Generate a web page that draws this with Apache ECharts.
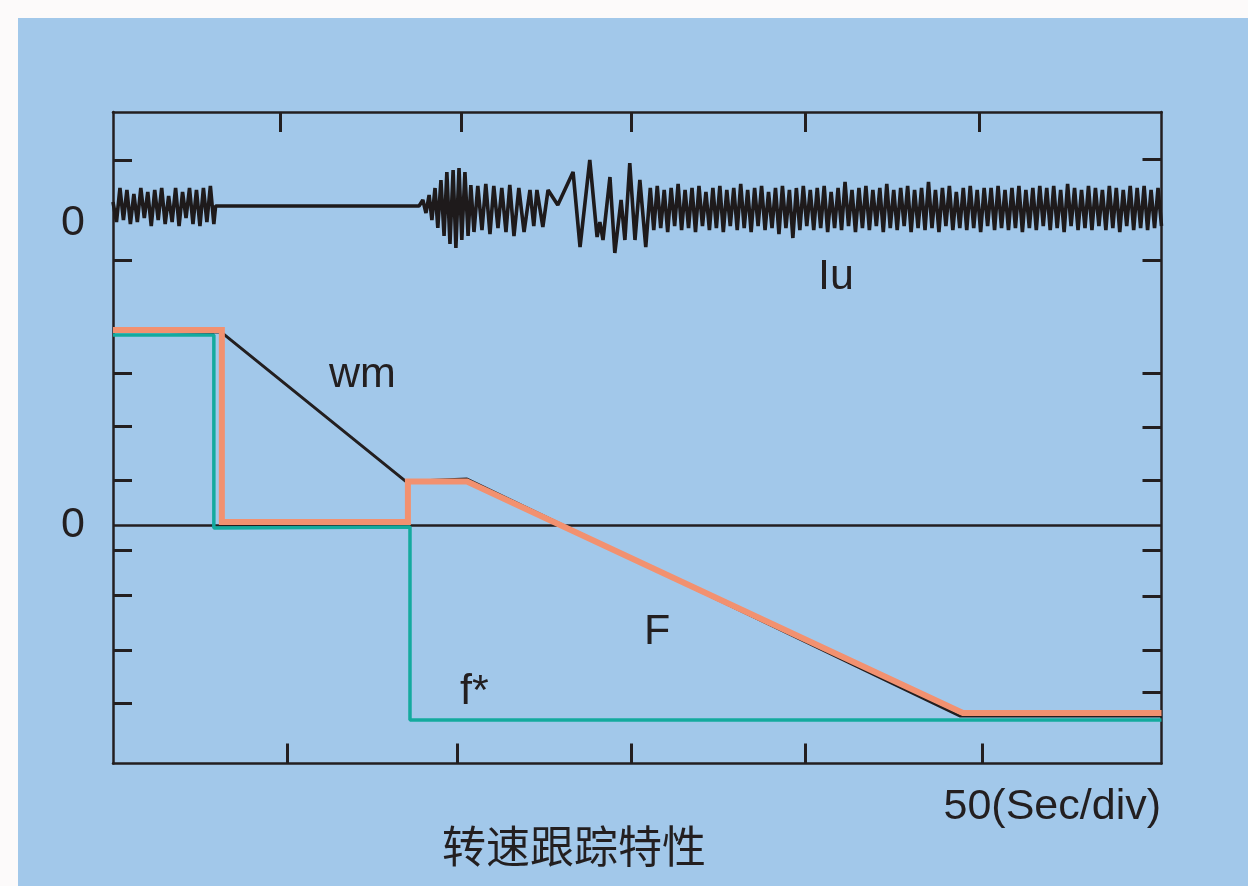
<!DOCTYPE html>
<html>
<head>
<meta charset="utf-8">
<script src="https://cdn.jsdelivr.net/npm/echarts@6/dist/echarts.min.js"></script>
<style>
html,body{margin:0;padding:0;background:#fcfafa;}
#chart{width:1248px;height:886px;}
</style>
</head>
<body>
<div id="chart"></div>
<script>
// ---- data (time in seconds, 50 s per division) ----
const tMax = 301.5;
// speed / frequency traces (percent of start speed)
const F_curve  = [[0,100.3],[31.3,100.3],[31.3,1.8],[84.8,1.8],[84.8,22.6],[101.8,22.6],[244.4,-96.2],[301.5,-96.2]];
const wm_curve = [[0,99.7],[31.1,99.2],[84.2,22.6],[101.8,23.8],[243.5,-97.7],[301.5,-97.7]];
const fStar    = [[0,97.7],[29.0,97.7],[29.0,-1.3],[85.4,-0.8],[85.4,-99.7],[301.5,-99.7]];
const zeroLine = [[0,0],[301.5,0]];
// Iu current: segment A sampled every 1 s from 0 s
const iuA_start = 0, iuA_step = 1.0;
const iuA = [0.2,-0.8,0.9,-0.7,0.8,-0.9,0.6,-0.8,0.9,-0.6,0.7,-1.0,0.8,-0.7,0.9,-0.9,0.5,-0.8,0.9,-1.0,0.7,-0.6,0.9,-0.9,0.8,-1.0,0.9,-0.8,1.0,-0.9];
const iuFlat = [[29.5,0],[88.0,0]];
// burst after restart
const iuBurst = [[89.1,0.3],[90.0,-0.35],[90.9,0.55],[91.7,-0.7],[92.6,0.9],[93.4,-1.1],[94.3,1.3],[95.2,-1.5],[96.0,1.7],[96.9,-1.9],[97.8,1.8],[98.6,-2.1],[99.5,1.9],[100.3,-1.7],[101.2,1.7],[102.1,-1.5],[102.9,1.05],[103.8,-1.3],[104.9,1.0],[106.1,-1.2],[107.2,1.1],[108.4,-1.4],[109.5,1.0],[110.7,-1.1],[111.8,0.9],[113.0,-1.3],[114.1,1.05],[115.3,-1.5],[116.7,0.9],[118.2,-1.3],[119.9,0.8],[121.0,-1.0],[121.9,0.8],[123.6,-1.05],[125.1,0.8],[127.9,0.05],[132.3,1.7],[134.3,-2.05],[137.1,2.3],[139.2,-1.55],[140.0,-0.8],[140.9,-1.7],[142.9,1.45],[144.3,-2.35],[146.1,0.3],[147.2,-1.7],[148.6,2.15],[150.1,-1.7],[151.5,1.3],[153.2,-2.05]];
// segment B sampled every 1 s from 154.5 s
const iuB_start = 154.5, iuB_step = 1.0;
const iuB = [0.9,-1.2,1.0,-1.1,0.8,-1.3,0.9,-1.0,1.1,-1.2,
0.8,-1.1,0.9,-1.3,1.0,-1.0,0.7,-1.2,0.9,-1.1,
1.0,-1.3,0.8,-1.0,0.9,-1.2,1.1,-1.1,0.8,-1.3,
0.9,-1.0,1.0,-1.2,0.7,-1.1,0.9,-1.4,1.0,-1.1,
0.8,-1.6,0.9,-1.2,1.0,-1.0,0.8,-1.2,0.9,-1.1,
1.0,-1.3,0.7,-1.1,0.9,-1.2,1.2,-1.0,0.8,-1.3,
0.9,-1.1,1.0,-1.2,0.8,-1.0,0.9,-1.3,1.1,-1.1,
0.8,-1.2,0.9,-1.0,1.0,-1.3,0.8,-1.1,0.9,-1.2,
1.2,-1.1,0.8,-1.3,0.9,-1.0,1.0,-1.2,0.7,-1.1,
0.9,-1.2,1.0,-1.1,0.8,-1.3,0.9,-1.0,0.9,-1.2,
1.0,-1.1,0.8,-1.2,0.9,-1.1,1.0,-1.3,0.8,-1.1,
0.9,-1.2,1.0,-1.0,0.9,-1.2,1.0,-1.1,0.8,-1.3,
1.1,-1.0,0.9,-1.2,0.8,-1.1,1.0,-1.2,0.9,-1.0,
0.8,-1.2,1.0,-1.1,0.9,-1.3,0.8,-1.0,1.0,-1.2,
0.9,-1.1,1.0,-1.2,0.8,-1.1,0.9,-1.0];
// tick positions
const xTicksTop = [48,100,149,199,249];
const xTicksBottom = [50,99,149,199,250];
const yTicksLeft = [187.4,136.2,78.2,51.0,23.0,-12.6,-36.0,-63.8,-91.2];
const yTicksRight = [187.9,136.2,78.2,50.5,23.3,-12.6,-36.2,-63.8,-85.4];
const mainRange = [-122.05, 212.05];
const iuRange = [-27.875, 4.7];
// texts
const title = '转速跟踪特性';
const unitLabel = '50(Sec/div)';
const traceNames = {iu:'Iu', wm:'wm', F:'F', f:'f*'};

// ---- build ----
const iuData = [];
iuA.forEach((v,i)=>iuData.push([iuA_start + i*iuA_step, v]));
iuFlat.forEach(p=>iuData.push(p));
iuBurst.forEach(p=>iuData.push(p));
iuB.forEach((v,i)=>iuData.push([iuB_start + i*iuB_step, v]));

const INK = '#231f20';
const FONT = '"Liberation Sans", Arial, sans-serif';
const lineCommon = {type:'line', showSymbol:false, symbol:'none', animation:false, silent:true};

function xAx(pos, ticks){
  return {type:'value', position:pos, min:0, max:tMax,
    axisLine:{show:true, onZero:false, lineStyle:{color:INK, width:2.5}},
    axisTick:{show:true, inside:true, length:20, customValues:ticks, lineStyle:{color:INK, width:3}},
    axisLabel:{show:false}, splitLine:{show:false}};
}
function yAx(pos, ticks, labelVals){
  return {type:'value', position:pos, min:mainRange[0], max:mainRange[1],
    axisLine:{show:true, onZero:false, lineStyle:{color:INK, width:2.5}},
    axisTick:{show:true, inside:true, length:19, customValues:ticks, lineStyle:{color:INK, width:3}},
    axisLabel:{show: labelVals.length>0, customValues:labelVals, formatter:()=> '0', margin:28,
      color:INK, fontSize:43, fontFamily:FONT},
    splitLine:{show:false}};
}

const chart = echarts.init(document.getElementById('chart'), null, {renderer:'canvas'});
chart.setOption({
  backgroundColor:'#fcfafa',
  animation:false,
  grid:{left:113, top:112, right:86.5, bottom:122.5, containLabel:false},
  xAxis:[xAx('bottom', xTicksBottom), xAx('top', xTicksTop)],
  yAxis:[
    yAx('left', yTicksLeft, [0]),
    yAx('right', yTicksRight, []),
    {type:'value', position:'left', min:iuRange[0], max:iuRange[1],
      axisLine:{show:false}, axisTick:{show:false}, splitLine:{show:false},
      axisLabel:{show:true, customValues:[0], formatter:()=> '\n0', margin:28, lineHeight:34,
        color:INK, fontSize:43, fontFamily:FONT}}
  ],
  graphic:[
    {type:'rect', z:-100, shape:{x:18,y:18,width:1230,height:868}, style:{fill:'#a2c8ea'}, silent:true},
    {type:'text', x:818, y:277, style:{text:traceNames.iu, font:'43px '+FONT, fill:INK, align:'left', verticalAlign:'middle'}},
    {type:'text', x:329, y:375, style:{text:traceNames.wm, font:'43px '+FONT, fill:INK, align:'left', verticalAlign:'middle'}},
    {type:'text', x:644, y:632, style:{text:traceNames.F, font:'43px '+FONT, fill:INK, align:'left', verticalAlign:'middle'}},
    {type:'text', x:460, y:692, style:{text:traceNames.f, font:'43px '+FONT, fill:INK, align:'left', verticalAlign:'middle'}},
    {type:'text', x:1161, y:807, style:{text:unitLabel, font:'43px '+FONT, fill:INK, align:'right', verticalAlign:'middle'}},
    {type:'text', x:574, y:846, style:{text:title, font:'44px "Noto Sans CJK SC", sans-serif', fill:INK, align:'center', verticalAlign:'middle'}}
  ],
  series:[
    Object.assign({}, lineCommon, {name:'zero', data:zeroLine, xAxisIndex:0, yAxisIndex:0, lineStyle:{color:INK, width:2.5}, z:2}),
    Object.assign({}, lineCommon, {name:'f*', data:fStar, xAxisIndex:0, yAxisIndex:0, lineStyle:{color:'#14aa9e', width:3.5}, z:3}),
    Object.assign({}, lineCommon, {name:'wm', data:wm_curve, xAxisIndex:0, yAxisIndex:0, lineStyle:{color:INK, width:3}, z:4}),
    Object.assign({}, lineCommon, {name:'F', data:F_curve, xAxisIndex:0, yAxisIndex:0, lineStyle:{color:'#f29170', width:6, join:'miter'}, z:5}),
    Object.assign({}, lineCommon, {name:'Iu', data:iuData, xAxisIndex:0, yAxisIndex:2, lineStyle:{color:'#1e1a1b', width:3.6}, z:6})
  ]
});
</script>
</body>
</html>
